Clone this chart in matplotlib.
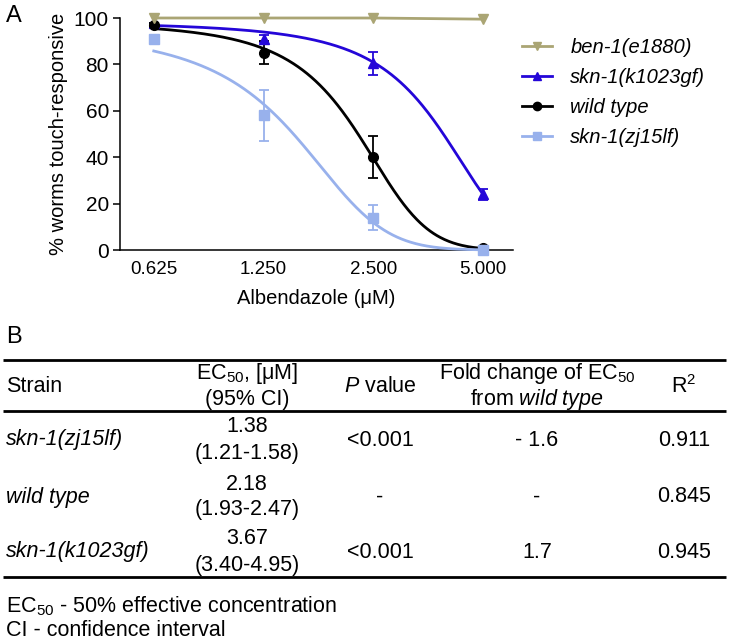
import matplotlib
matplotlib.use("Agg")
import matplotlib.pyplot as plt
import numpy as np

plt.rcParams.update({
    "font.family": ["Liberation Sans", "DejaVu Sans"],
    "mathtext.fontset": "custom",
    "mathtext.rm": "Liberation Sans",
    "mathtext.it": "Liberation Sans:italic",
    "mathtext.bf": "Liberation Sans:bold",
})

# --- panel A data ---
conc = [0.625, 1.25, 2.5, 5.0]
tick_labels = ["0.625", "1.250", "2.500", "5.000"]

strain_names = ["ben-1(e1880)", "skn-1(k1023gf)", "wild type", "skn-1(zj15lf)"]
ben1 = [100, 100, 100, 99.5]
k1023gf = [98, 91, 80.5, 24]
k1023gf_err = [0, 1.5, 5, 2.5]
wt = [97, 85, 40, 1]
wt_err = [1, 5, 9, 0.5]
zj15lf = [91, 58, 14, 0]
zj15lf_err = [0, 11, 5.5, 0]

# fitted sigmoid parameters (midpoint, rate) estimated from the drawn curves
fit_mid = {"skn-1(k1023gf)": 3.89, "wild type": 2.27, "skn-1(zj15lf)": 1.51}
fit_rate = {"skn-1(k1023gf)": 1.04, "wild type": 1.85, "skn-1(zj15lf)": 2.03}

colors = {
    "ben-1(e1880)": "#aaa574",
    "skn-1(k1023gf)": "#2406d8",
    "wild type": "#000000",
    "skn-1(zj15lf)": "#98b1ec",
}
markers = {"ben-1(e1880)": "v", "skn-1(k1023gf)": "^", "wild type": "o", "skn-1(zj15lf)": "s"}

# --- panel B table ---
tab_strains = ["skn-1(zj15lf)", "wild type", "skn-1(k1023gf)"]
tab_ec50 = ["1.38", "2.18", "3.67"]
tab_ci = ["(1.21-1.58)", "(1.93-2.47)", "(3.40-4.95)"]
tab_p = ["<0.001", "-", "<0.001"]
tab_fold = ["- 1.6", "-", "1.7"]
tab_r2 = ["0.911", "0.845", "0.945"]

W, H = 729, 640
fig = plt.figure(figsize=(W / 100, H / 100), dpi=100)

# background axes in pixel units for labels and the table
bg = fig.add_axes([0, 0, 1, 1], zorder=0)
bg.set_xlim(0, W)
bg.set_ylim(H, 0)
bg.axis("off")

ax = fig.add_axes([120 / W, 1 - 250 / H, (513 - 120) / W, (250 - 18) / H], zorder=1)
ax.patch.set_alpha(0)

xx = np.geomspace(conc[0], conc[-1], 300)
series = [
    ("ben-1(e1880)", ben1, None),
    ("skn-1(k1023gf)", k1023gf, k1023gf_err),
    ("wild type", wt, wt_err),
    ("skn-1(zj15lf)", zj15lf, zj15lf_err),
]
handles = []
for name, vals, err in series:
    c = colors[name]
    if name in fit_mid:
        yy = 100 / (1 + np.exp(fit_rate[name] * (xx - fit_mid[name])))
        ax.plot(xx, yy, color=c, lw=2.0, zorder=3, clip_on=False)
        ax.errorbar(conc, vals, yerr=err, fmt="none", ecolor=c, elinewidth=1.3,
                    capsize=3.6, capthick=1.3, zorder=4, clip_on=False)
        ax.plot(conc, vals, linestyle="none", marker=markers[name], ms=7, color=c,
                zorder=5, clip_on=False)
    else:
        ax.plot(conc, vals, color=c, lw=2.0, marker=markers[name], ms=7, zorder=6,
                clip_on=False)
    handles.append(plt.Line2D([0], [0], color=c, lw=2.0, marker=markers[name], ms=6))

ax.set_xscale("log", base=2)
ax.set_xlim(0.505, 6.04)
ax.set_ylim(0, 100)
ax.set_xticks(conc)
ax.set_xticklabels(tick_labels)
ax.minorticks_off()
ax.set_yticks([0, 20, 40, 60, 80, 100])
ax.tick_params(axis="x", length=0, labelsize=13.5, pad=8)
ax.tick_params(axis="y", length=5, width=1.1, labelsize=15, pad=3)
for s in ["top", "right"]:
    ax.spines[s].set_visible(False)
for s in ["left", "bottom"]:
    ax.spines[s].set_linewidth(1.1)
ax.set_xlabel("Albendazole (\u03bcM)", fontsize=14.5, labelpad=8)
ax.set_ylabel("% worms touch-responsive", fontsize=14.5, labelpad=4)

leg = fig.legend(handles, strain_names, loc="upper left",
                 bbox_to_anchor=(514 / W, 1 - 30 / H), frameon=False,
                 prop={"style": "italic", "size": 14.5}, handlelength=1.5,
                 handletextpad=0.9, labelspacing=0.55, borderaxespad=0)

bg.text(6, 16, "A", fontsize=17, ha="left", va="center")
bg.text(6, 337, "B", fontsize=17, ha="left", va="center")

# table rules
bg.hlines(360, 3, 726, color="black", lw=2.0)
bg.hlines(411, 3, 726, color="black", lw=2.0)
bg.hlines(577, 3, 726, color="black", lw=2.0)

fs = 15.5
col_x = [247, 380, 537, 684]
bg.text(6, 387, "Strain", fontsize=fs, ha="left", va="center")
bg.text(col_x[0], 373, "EC$_{50}$, [\u03bcM]", fontsize=fs, ha="center", va="center")
bg.text(col_x[0], 400, "(95% CI)", fontsize=fs, ha="center", va="center")
bg.text(col_x[1], 387, "$\\it{P}$ value", fontsize=fs, ha="center", va="center")
bg.text(col_x[2], 373, "Fold change of EC$_{50}$", fontsize=fs, ha="center", va="center")
bg.text(col_x[2], 400, "from $\\it{wild\\ type}$", fontsize=fs, ha="center", va="center")
bg.text(col_x[3], 387, "R$^{2}$", fontsize=fs, ha="center", va="center")

row_y = [440, 497, 552]
for i, yc in enumerate(row_y):
    bg.text(6, yc, tab_strains[i], fontsize=fs, ha="left", va="center", style="italic")
    bg.text(col_x[0], yc - 13, tab_ec50[i], fontsize=fs, ha="center", va="center")
    bg.text(col_x[0], yc + 13, tab_ci[i], fontsize=fs, ha="center", va="center")
    bg.text(col_x[1], yc, tab_p[i], fontsize=fs, ha="center", va="center")
    bg.text(col_x[2], yc, tab_fold[i], fontsize=fs, ha="center", va="center")
    bg.text(col_x[3], yc, tab_r2[i], fontsize=fs, ha="center", va="center")

bg.text(6, 606, "EC$_{50}$ - 50% effective concentration", fontsize=fs, ha="left", va="center")
bg.text(6, 630, "CI - confidence interval", fontsize=fs, ha="left", va="center")

fig.savefig("out.png", dpi=100)
